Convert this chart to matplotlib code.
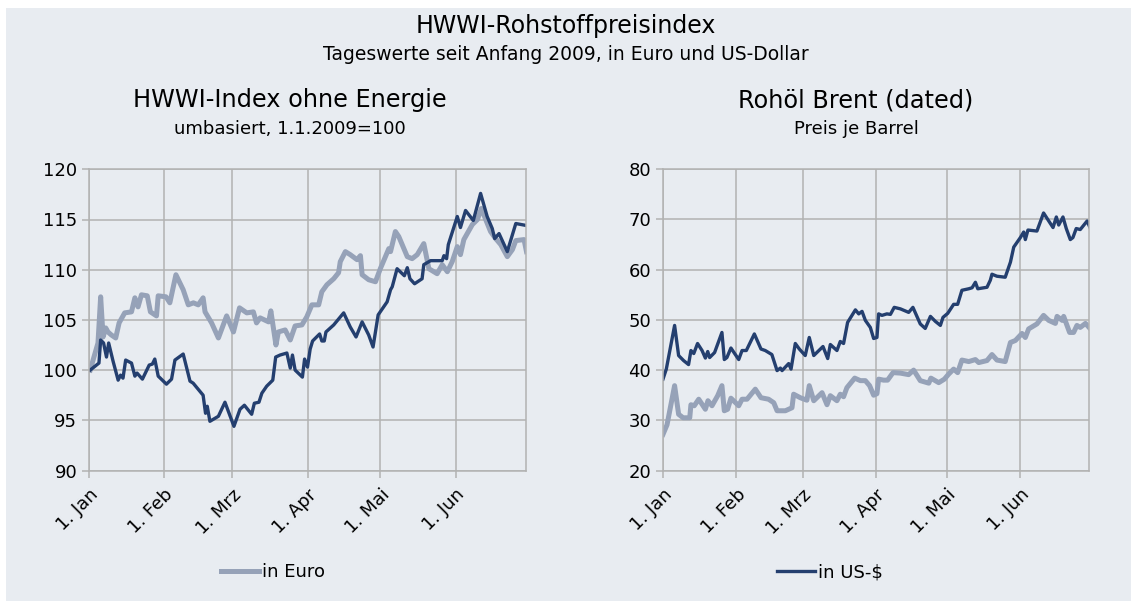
import numpy as np
import matplotlib.pyplot as plt
from matplotlib.patches import Rectangle
from matplotlib.transforms import ScaledTranslation


# days since 1 Jan 2009
# left panel: HWWI index without energy (1.1.2009 = 100)
idx_eur_day = [0.5, 3.7, 4.8, 5.8, 6.9, 7.8, 9.2, 11, 12.4, 14.7, 17.5, 18.9, 20.2, 21.6, 24,
               25.3, 27.8, 28.5, 31.7, 33.3, 35.8, 38.8, 40.9, 43, 45, 47, 47.8, 50.5, 53.3,
               56.7, 59.5, 62, 65, 67.7, 69, 70.5, 74, 74.9, 77, 78, 80.8, 82.9, 84.9, 87.7,
               89.7, 91.8, 94.6, 95.9, 98, 100.8, 102.8, 103.5, 105.6, 107.6, 110.4, 111.8,
               112.5, 115.2, 118, 120, 122.1, 123.5, 124.2, 126.2, 127.6, 131.1, 133.1, 135.2,
               137.9, 140, 143.4, 145.5, 147.6, 149.6, 151.7, 153, 154.4, 157.9, 160, 161.6,
               163.4, 165.4, 167.5, 169.6, 172.3, 174.4, 175.8, 179.2, 180.2]
idx_eur = [100.0, 102.7, 107.3, 103.3, 104.2, 103.8, 103.5, 103.2, 104.7, 105.7, 105.8, 107.2,
           106.3, 107.5, 107.4, 105.8, 105.4, 107.4, 107.3, 106.7, 109.5, 108.0, 106.5, 106.7,
           106.5, 107.2, 105.8, 104.7, 103.2, 105.4, 103.8, 106.2, 105.7, 105.8, 104.7, 105.2,
           104.8, 105.9, 102.5, 103.8, 104.0, 103.0, 104.4, 104.5, 105.3, 106.5, 106.5, 107.8,
           108.5, 109.1, 109.7, 110.8, 111.8, 111.5, 111.0, 111.4, 109.5, 109.0, 108.8, 110.1,
           111.3, 112.1, 111.8, 113.8, 113.3, 111.3, 111.1, 111.5, 112.6, 110.1, 109.6, 110.5,
           109.8, 110.8, 112.3, 111.5, 113.0, 114.5, 115.0, 116.1, 115.0, 113.8, 113.1, 112.5,
           111.3, 112.0, 112.9, 113.0, 111.8]

idx_usd_day = [0.5, 4.1, 4.8, 6, 7.2, 8.1, 9.9, 12, 13, 14, 15.1, 17.5, 18.9, 19.8, 22, 24.8,
               26.1, 27.1, 28.5, 31.9, 34, 35.4, 38.8, 41.6, 42.9, 47, 48, 48.7, 49.8, 53.3, 56,
               59.7, 62.2, 64, 67, 68.1, 70, 71.2, 73.2, 75.7, 76.9, 78.7, 81.5, 82.9, 83.8,
               84.9, 87.9, 88.8, 90, 91.1, 92.1, 95, 95.9, 96.9, 97.6, 100.8, 104.9, 107.6, 110,
               112.5, 115.2, 117, 119.1, 122.8, 124.2, 124.9, 126.9, 129.9, 131.1, 132.2, 134.1,
               137.2, 137.9, 140.7, 145.5, 146.2, 147.3, 148, 151.7, 153, 155.1, 158.3, 161.3,
               164, 166.1, 167.1, 168.9, 172.3, 175.8, 180.2]
idx_usd = [100.0, 100.7, 103.0, 102.7, 101.3, 102.7, 100.9, 99.0, 99.5, 99.2, 101.0, 100.7, 99.4,
           99.7, 99.1, 100.5, 100.6, 101.1, 99.4, 98.6, 99.1, 101.0, 101.6, 98.9, 98.7, 97.5,
           95.7, 96.4, 94.9, 95.4, 96.8, 94.4, 96.1, 96.5, 95.6, 96.7, 96.8, 97.7, 98.4, 99.0,
           101.3, 101.5, 101.7, 100.2, 101.5, 100.0, 99.3, 101.1, 100.3, 102.1, 102.9, 103.6,
           102.9, 102.9, 103.8, 104.5, 105.7, 104.3, 103.3, 104.8, 103.5, 102.3, 105.5, 106.8,
           108.0, 108.3, 110.1, 109.4, 110.2, 109.1, 108.6, 109.1, 110.5, 110.9, 110.9, 111.4,
           111.1, 112.5, 115.3, 114.2, 115.9, 114.9, 117.6, 115.3, 114.1, 113.1, 113.6, 111.8,
           114.6, 114.4]

# right panel: Brent (dated), price per barrel
brent_usd_day = [0, 1.4, 4.9, 6.6, 8.7, 10.8, 11.8, 13, 14.6, 16.5, 17.9, 18.9, 19.7, 21.8, 24.9,
                 25.9, 27, 28.7, 32, 33.4, 35.2, 38.6, 41.4, 43.2, 46, 48.2, 49.6, 50.3, 53.1,
                 54.1, 55.9, 57.6, 60.1, 61.8, 63.7, 67.6, 69.6, 70.7, 73.5, 74.9, 76.3, 78,
                 81.3, 82.7, 84.1, 85.5, 87.6, 89, 90.4, 91.1, 92.5, 94.6, 96.1, 97.7, 100.3,
                 103.8, 105.6, 108.7, 110.8, 113, 115.1, 117.2, 118.3, 120.3, 122.8, 124.5,
                 126.3, 129.2, 130.6, 132, 133, 136.9, 138.3, 139, 141.1, 144.6, 146.8, 148.2,
                 151, 152.4, 153.1, 154.2, 158, 160.8, 163, 164.8, 166.2, 167.2, 169, 170.4,
                 172.1, 173.2, 174.6, 176.3, 179.2, 180.6]
brent_usd = [38.2, 40.2, 48.9, 42.9, 41.9, 41.1, 43.9, 43.3, 45.3, 43.9, 42.4, 43.7, 42.5, 43.5,
             47.5, 42.1, 42.5, 44.4, 42.1, 43.9, 43.9, 47.2, 44.2, 43.9, 43.1, 39.9, 40.4, 39.9,
             41.3, 40.2, 45.3, 44.2, 42.9, 46.5, 42.9, 44.7, 42.3, 45.1, 43.9, 45.7, 45.3, 49.5,
             52.0, 51.2, 51.7, 49.9, 48.5, 46.3, 46.5, 51.2, 50.9, 51.2, 51.1, 52.5, 52.2, 51.5,
             52.5, 49.2, 48.3, 50.7, 49.7, 48.9, 50.5, 51.3, 53.1, 53.1, 55.9, 56.2, 56.4, 57.5,
             56.2, 56.5, 57.9, 59.1, 58.7, 58.5, 61.5, 64.5, 66.4, 67.5, 66.0, 67.9, 67.7, 71.3,
             69.7, 68.4, 70.5, 68.9, 70.5, 68.2, 66.0, 66.4, 68.2, 68.0, 69.7, 68.2]

brent_eur_day = [0, 1.7, 4.9, 6.6, 8.5, 11.3, 11.8, 13.2, 15.1, 17.9, 19, 20.7, 23.1, 24.9, 25.9,
                 27.3, 28.7, 32, 33.4, 35.5, 39, 41.4, 44.6, 46.8, 48.2, 51.7, 54.5, 55.2, 58,
                 60.8, 61.8, 63.7, 67.2, 69.3, 70.7, 73.5, 74.9, 76.3, 77.7, 81, 83.4, 85.5,
                 87.3, 89, 90.4, 91.1, 93.2, 94.9, 97.2, 100.3, 103.8, 105.9, 108.7, 112.3,
                 113.2, 116.5, 118.9, 120.7, 122.8, 124.5, 126.3, 129.2, 132, 133.4, 136.9, 139,
                 141.1, 144.6, 146.8, 148.9, 151.7, 153.1, 154.5, 158, 160.8, 163, 165.8, 166.5,
                 168.7, 169.3, 171.8, 173.5, 174.9, 176.3, 178.5, 180.6]
brent_eur = [27.2, 29.1, 36.9, 31.2, 30.5, 30.5, 33.1, 32.9, 34.2, 32.2, 33.9, 32.9, 34.9, 36.9,
             31.9, 32.2, 34.4, 32.9, 34.2, 34.2, 36.2, 34.5, 34.2, 33.5, 31.9, 31.9, 32.5, 35.2,
             34.5, 34.0, 36.9, 33.9, 35.5, 33.1, 34.9, 33.9, 35.2, 34.7, 36.5, 38.4, 37.9, 37.9,
             36.9, 35.0, 35.3, 38.2, 38.0, 38.0, 39.5, 39.4, 39.1, 40.0, 37.9, 37.4, 38.4, 37.5,
             38.2, 39.2, 40.2, 39.5, 42.0, 41.7, 42.1, 41.5, 41.9, 43.1, 42.0, 41.7, 45.5, 45.9,
             47.3, 46.5, 48.2, 49.2, 50.9, 49.9, 49.3, 50.7, 49.9, 50.7, 47.5, 47.5, 48.9, 48.5,
             49.3, 48.2]

month_starts = [0, 31, 59, 90, 120, 151]
month_labels = ['1. Jan', '1. Feb', '1. Mrz', '1. Apr', '1. Mai', '1. Jun']

bg = '#E8ECF1'
navy = '#243F6F'
grey_blue = '#96A2B8'
grid_col = '#B2B2B2'

fig = plt.figure(figsize=(11.31, 6.01), dpi=100)
fig.patch.set_facecolor('white')
fig.patches.append(Rectangle((6 / 1131, 0), 1, 1 - 8 / 601, transform=fig.transFigure,
                             facecolor=bg, edgecolor='none', zorder=-10))

ax1 = fig.add_axes([89 / 1131, 130.5 / 601, 437 / 1131, 301.2 / 601])
ax2 = fig.add_axes([663 / 1131, 130.5 / 601, 426 / 1131, 301.2 / 601])

l1, = ax1.plot(idx_eur_day, idx_eur, color=grey_blue, lw=3.6, solid_joinstyle='round')
ax1.plot(idx_usd_day, idx_usd, color=navy, lw=2.4, solid_joinstyle='round')
ax2.plot(brent_eur_day, brent_eur, color=grey_blue, lw=3.6, solid_joinstyle='round')
l2, = ax2.plot(brent_usd_day, brent_usd, color=navy, lw=2.4, solid_joinstyle='round')

# shift x labels a bit left/down like the excel original
shift = ScaledTranslation(-0.08, -0.06, fig.dpi_scale_trans)

for ax, lo, hi, step in [(ax1, 90, 120, 5), (ax2, 20, 80, 10)]:
    ax.set_facecolor(bg)
    ax.set_xlim(0, 180)
    ax.set_ylim(lo, hi)
    ax.set_yticks(np.arange(lo, hi + 1, step))
    ax.set_xticks(month_starts)
    ax.set_xticklabels(month_labels, rotation=45, ha='right', va='top', rotation_mode='anchor')
    for lab in ax.get_xticklabels():
        lab.set_transform(lab.get_transform() + shift)
    ax.grid(True, color=grid_col, lw=1.1)
    ax.set_axisbelow(True)
    for s in ax.spines.values():
        s.set_color(grid_col)
        s.set_linewidth(1.1)
    ax.tick_params(axis='both', colors=grid_col, labelcolor='black', labelsize=13,
                   length=5, width=1.1)
    ax.tick_params(axis='x', pad=6)

fig.text(0.5, 1 - 33 / 601, 'HWWI-Rohstoffpreisindex', ha='center', va='baseline', fontsize=17)
fig.text(0.5, 1 - 60 / 601, 'Tageswerte seit Anfang 2009, in Euro und US-Dollar',
         ha='center', va='baseline', fontsize=13.5)
fig.text(290 / 1131, 1 - 107 / 601, 'HWWI-Index ohne Energie', ha='center', va='baseline',
         fontsize=17.3)
fig.text(290 / 1131, 1 - 134 / 601, 'umbasiert, 1.1.2009=100', ha='center', va='baseline',
         fontsize=13)
fig.text(856 / 1131, 1 - 107 / 601, 'Rohöl Brent (dated)', ha='center', va='baseline',
         fontsize=17.3)
fig.text(856 / 1131, 1 - 134 / 601, 'Preis je Barrel', ha='center', va='baseline', fontsize=13)

fig.legend([l1], ['in Euro'], loc='center', bbox_to_anchor=(273 / 1131, 1 - 572 / 601),
           frameon=False, fontsize=13, handlelength=2.1, handletextpad=0.2)
fig.legend([l2], ['in US-$'], loc='center', bbox_to_anchor=(830 / 1131, 1 - 572 / 601),
           frameon=False, fontsize=13, handlelength=2.1, handletextpad=0.2)

plt.savefig('out.png', dpi=100, facecolor=fig.get_facecolor())
